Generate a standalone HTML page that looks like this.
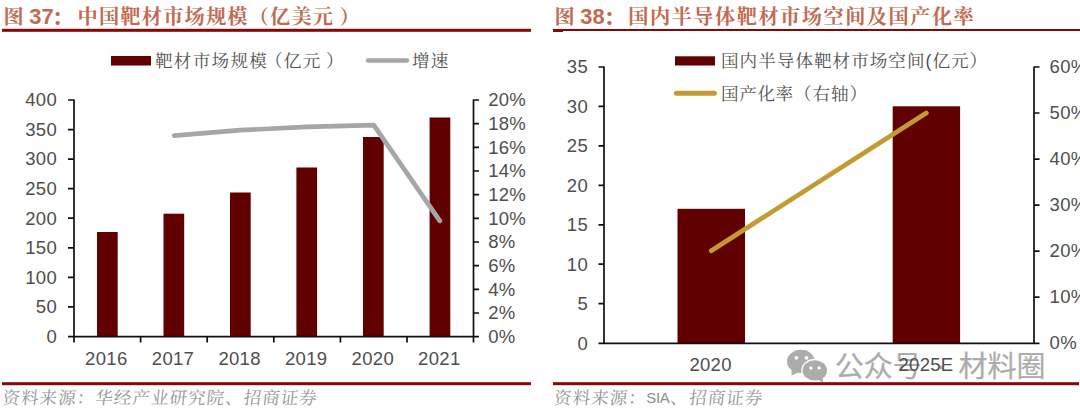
<!DOCTYPE html>
<html lang="zh-CN">
<head>
<meta charset="utf-8">
<title>图 37 / 图 38</title>
<style>
  html, body { margin: 0; padding: 0; background: #ffffff; }
  body { width: 1080px; height: 409px; overflow: hidden; position: relative; }
  svg { position: absolute; left: 0; top: 0; display: block; }
  .kai   { font-family: "Liberation Serif", "Noto Serif CJK SC", serif; }
  .sans  { font-family: "Liberation Sans", "Noto Sans CJK SC", sans-serif; }
  .title { font-size: 20.2px; letter-spacing: 1.2px; font-weight: 700; fill: #c26a50; }
  .tnum  { font-family: "Liberation Sans", "Noto Sans CJK SC", sans-serif; font-size: 21.8px; font-weight: 700; fill: #c26a50; }
  .leg   { font-size: 17.6px; letter-spacing: 1.25px; font-weight: 400; fill: #525252; }
  .src   { font-size: 17.5px; letter-spacing: 1.07px; font-weight: 400; fill: #949494; }
  .srcl  { font-family: "Liberation Sans", "Noto Sans CJK SC", sans-serif; font-size: 15px; letter-spacing: -0.3px; fill: #8e8e8e; }
  .ax    { font-family: "Liberation Sans", "Noto Sans CJK SC", sans-serif; font-size: 18.5px; letter-spacing: 0.3px; fill: #4e4e4e; }
  .wm    { font-family: "Liberation Sans", "Noto Sans CJK SC", sans-serif; font-size: 29px; font-weight: 400; fill: #a4a4a4; stroke: #a4a4a4; stroke-width: 0.2px; }
</style>
</head>
<body>
<svg width="1080" height="409" viewBox="0 0 1080 409">

  <!-- ============ LEFT FIGURE (图 37) ============ -->
  <g id="fig37">
    <text class="kai title" x="3.5" y="24">图</text>
    <text class="tnum" x="29.3" y="23.6">37</text>
    <text class="kai title" x="51.6" y="25" style="font-size:23px">：</text>
    <text class="kai title" x="77.6" y="24">中国靶材市场规模（亿美元</text>
    <text class="kai title" x="339.5" y="24">）</text>
    <rect x="2" y="28.8" width="529" height="3" fill="#870606"/>

    <!-- legend -->
    <rect x="111" y="56" width="40" height="9.5" fill="#600000"/>
    <text class="kai leg" x="155" y="67">靶材市场规模</text>
    <text class="kai leg" x="265" y="67">（亿元</text>
    <text class="kai leg" x="326" y="67">）</text>
    <line x1="368" y1="60.5" x2="407" y2="60.5" stroke="#a6a6a6" stroke-width="4.4" stroke-linecap="round"/>
    <text class="kai leg" x="412" y="67">增速</text>

    <!-- bars -->
    <g fill="#600000">
      <rect x="97"    y="232"   width="20.7" height="104.5"/>
      <rect x="163.5" y="213.7" width="20.7" height="122.8"/>
      <rect x="230"   y="192.5" width="20.7" height="144"/>
      <rect x="296.4" y="167.5" width="20.7" height="169"/>
      <rect x="363"   y="137"   width="20.7" height="199.5"/>
      <rect x="429.6" y="117.5" width="20.7" height="219"/>
    </g>

    <!-- growth line -->
    <polyline points="174.2,135.6 240.3,130.2 306.8,126.8 373.8,125.1 439.8,220.8" fill="none" stroke="#a6a6a6" stroke-width="4.7" stroke-linecap="round" stroke-linejoin="round"/>

    <!-- axes -->
    <g stroke="#0f0f0f" stroke-width="1.7" fill="none">
      <path d="M74 99.5 V337"/>
      <path d="M473.5 99.5 V337"/>
      <path d="M68 336.7 H479"/>
      <!-- left ticks -->
      <path d="M68 100 H74 M68 129.6 H74 M68 159.1 H74 M68 188.7 H74 M68 218.2 H74 M68 247.8 H74 M68 277.3 H74 M68 306.9 H74"/>
      <!-- right ticks -->
      <path d="M473.5 100 H479 M473.5 123.7 H479 M473.5 147.3 H479 M473.5 171 H479 M473.5 194.7 H479 M473.5 218.3 H479 M473.5 242 H479 M473.5 265.7 H479 M473.5 289.3 H479 M473.5 313 H479"/>
      <!-- bottom ticks -->
      <path d="M74 337 V342.5 M140.6 337 V342.5 M207.2 337 V342.5 M273.8 337 V342.5 M340.4 337 V342.5 M407 337 V342.5 M473.5 337 V342.5"/>
    </g>

    <!-- left labels -->
    <g class="ax" text-anchor="end">
      <text x="57" y="106.3">400</text>
      <text x="57" y="135.9">350</text>
      <text x="57" y="165.4">300</text>
      <text x="57" y="195">250</text>
      <text x="57" y="224.5">200</text>
      <text x="57" y="254.1">150</text>
      <text x="57" y="283.6">100</text>
      <text x="57" y="313.2">50</text>
      <text x="57" y="342.8">0</text>
    </g>
    <!-- right labels -->
    <g class="ax">
      <text x="488.2" y="106.3">20%</text>
      <text x="488.2" y="130">18%</text>
      <text x="488.2" y="153.6">16%</text>
      <text x="488.2" y="177.3">14%</text>
      <text x="488.2" y="201">12%</text>
      <text x="488.2" y="224.6">10%</text>
      <text x="488.2" y="248.3">8%</text>
      <text x="488.2" y="272">6%</text>
      <text x="488.2" y="295.6">4%</text>
      <text x="488.2" y="319.3">2%</text>
      <text x="488.2" y="343">0%</text>
    </g>
    <!-- x labels -->
    <g class="ax" text-anchor="middle">
      <text x="106.3" y="365">2016</text>
      <text x="173" y="365">2017</text>
      <text x="239.6" y="365">2018</text>
      <text x="306.2" y="365">2019</text>
      <text x="372.8" y="365">2020</text>
      <text x="439.3" y="365">2021</text>
    </g>

    <rect x="2" y="382.2" width="529" height="3" fill="#870606"/>
    <g transform="translate(2.0 403.8) skewX(-6)"><text class="kai src" x="0" y="0">资料来源：华经产业研究院、招商证券</text></g>
  </g>

  <!-- ============ RIGHT FIGURE (图 38) ============ -->
  <g id="fig38">
    <text class="kai title" x="554.5" y="24">图</text>
    <text class="tnum" x="580.3" y="23.6">38</text>
    <text class="kai title" x="603.3" y="25" style="font-size:23px">：</text>
    <text class="kai title" x="628.3" y="24" style="letter-spacing:1.5px">国内半导体靶材市场空间及国产化率</text>
    <rect x="553" y="29" width="527" height="2" fill="#870606"/>
    <rect x="553" y="29" width="10" height="3" fill="#870606"/>

    <!-- bars -->
    <g fill="#600000">
      <rect x="677.5" y="208.8" width="67.5" height="134.5"/>
      <rect x="892.7" y="106.3" width="67.4" height="237"/>
    </g>

    <!-- legend -->
    <rect x="675" y="56.3" width="40" height="9.2" fill="#600000"/>
    <text class="kai leg" x="721" y="67" style="letter-spacing:1.0px">国内半导体靶材市场空间<tspan class="sans">(</tspan>亿元）</text>
    <line x1="676.4" y1="93.2" x2="714.4" y2="93.2" stroke="#c39b33" stroke-width="5" stroke-linecap="round"/>
    <text class="kai leg" x="721" y="100" style="letter-spacing:0.6px">国产化率</text>
    <text class="kai leg" x="794" y="100" style="letter-spacing:0.9px">（右轴）</text>

    <!-- gold line -->
    <line x1="711.3" y1="250.7" x2="926.3" y2="113" stroke="#c39b33" stroke-width="4.8" stroke-linecap="round"/>

    <!-- axes -->
    <g stroke="#0f0f0f" stroke-width="1.7" fill="none">
      <path d="M604 66.5 V343.5"/>
      <path d="M1034 66.5 V343.5"/>
      <path d="M598.5 343.3 H1039.5"/>
      <path d="M598.5 67 H604 M598.5 106.4 H604 M598.5 145.9 H604 M598.5 185.3 H604 M598.5 224.8 H604 M598.5 264.2 H604 M598.5 303.7 H604"/>
      <path d="M1034 67 H1039.5 M1034 113 H1039.5 M1034 159.1 H1039.5 M1034 205.1 H1039.5 M1034 251.2 H1039.5 M1034 297.2 H1039.5"/>
    </g>

    <g class="ax" text-anchor="end">
      <text x="588" y="73.3">35</text>
      <text x="588" y="112.7">30</text>
      <text x="588" y="152.2">25</text>
      <text x="588" y="191.6">20</text>
      <text x="588" y="231.1">15</text>
      <text x="588" y="270.5">10</text>
      <text x="588" y="310">5</text>
      <text x="588" y="349.5">0</text>
    </g>
    <g class="ax">
      <text x="1049.6" y="73.3">60%</text>
      <text x="1049.6" y="119.2">50%</text>
      <text x="1049.6" y="165.1">40%</text>
      <text x="1049.6" y="211">30%</text>
      <text x="1049.6" y="256.9">20%</text>
      <text x="1049.6" y="302.8">10%</text>
      <text x="1049.6" y="348.7">0%</text>
    </g>
    <!-- watermark -->
    <g id="wm" opacity="0.9">
      <g fill="#a4a4a4">
        <ellipse cx="800.9" cy="361.4" rx="13.9" ry="11.6"/>
        <path d="M791.5 369 L791.6 375.4 L798.5 372.2 Z"/>
      </g>
      <ellipse cx="814.8" cy="370.4" rx="13.6" ry="11.6" fill="#ffffff"/>
      <ellipse cx="814.8" cy="370.4" rx="12.2" ry="10.2" fill="#a4a4a4"/>
      <path d="M817.8 379.6 L823 382.6 L822.8 378 Z" fill="#a4a4a4"/>
      <g fill="#ffffff">
        <circle cx="796.4" cy="357.8" r="1.9"/>
        <circle cx="806.5" cy="357.8" r="1.9"/>
        <circle cx="810.9" cy="367.9" r="1.6"/>
        <circle cx="819.1" cy="367.9" r="1.6"/>
      </g>
      <text class="wm" x="834.8" y="376.8">公众号</text>
      <text class="wm" x="936" y="375">·</text>
      <text class="wm" x="958.6" y="376.8">材料圈</text>
    </g>

    <g class="ax" text-anchor="middle">
      <text x="710.6" y="371">2020</text>
      <text x="926" y="371">2025E</text>
    </g>

    <rect x="553" y="382.2" width="526" height="3" fill="#870606"/>
    <g transform="translate(553.6 403.8) skewX(-6)"><text class="kai src" x="0" y="0">资料来源：</text><text class="kai src" x="116.5" y="0">、招商证券</text></g>
    <text class="srcl" x="646.3" y="403.2">SIA</text>

    </g>
</svg>
</body>
</html>
